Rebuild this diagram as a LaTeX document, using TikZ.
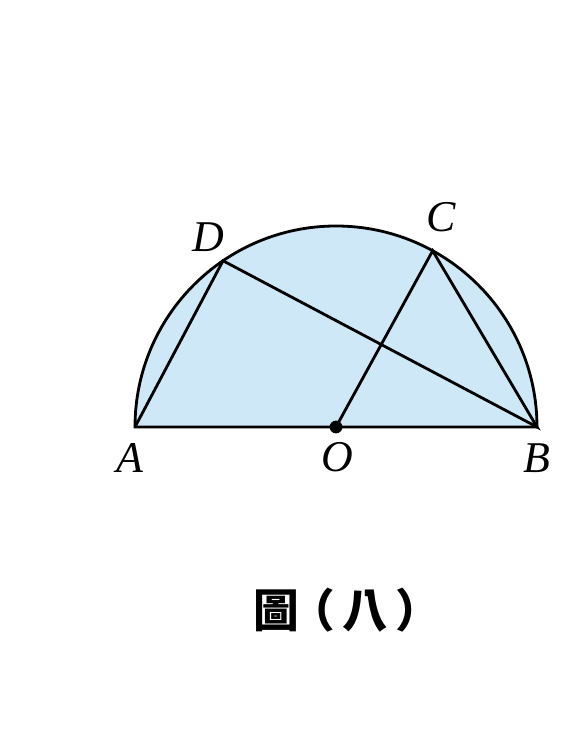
\documentclass[tikz,border=0pt]{standalone}
\usepackage{fontspec}
\setmainfont{Liberation Serif}
\newfontfamily\cjk{Noto Sans CJK TC}
\definecolor{paleblue}{RGB}{207,232,248}

\begin{document}
\begin{tikzpicture}[x=0.02cm,y=-0.02cm,
    lbl/.style={font=\fontsize{25}{30}\selectfont\itshape}]
            \useasboundingbox (-336,-427) rectangle (227,326);
            \coordinate (O) at (0,0);
            \coordinate (A) at (-201,0);
            \coordinate (B) at (201,0);
            \coordinate (D) at (-124.2:201);
            \coordinate (C) at (-61.25:201);
            \filldraw[fill=paleblue,line width=1.6pt] (B) arc[start angle=0,end angle=-180,radius=201] -- cycle;
            \draw[line width=1.6pt] (A) -- (D) -- (B) -- (C) -- (O);
            \filldraw[black] (O) circle (6);
            \draw (D) ++(-15,-24) node[lbl] (d) {D};
            \draw (C) ++(8,-34) node[lbl] (c) {C};
            \draw (A) ++(-5,31) node[lbl] (a) {A};
            \draw (O) ++(1,30) node[lbl] (o) {O};
            \draw (B) ++(0,31) node[lbl] (b) {B};
            \draw (11,183) node[font=\cjk\bfseries\fontsize{26}{30}\selectfont] (cap) {圖\hspace{-5pt}（\hspace{4pt}八\hspace{4pt}）};
        \end{tikzpicture}
\end{document}
